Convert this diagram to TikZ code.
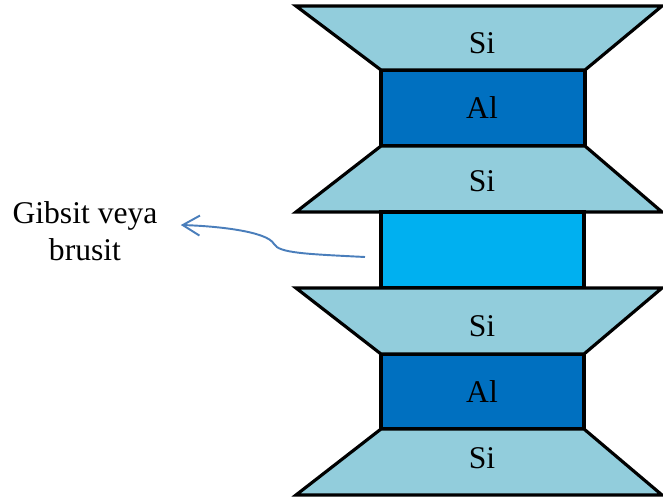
\documentclass[tikz,border=0pt]{standalone}
\usepackage{fontspec}
\setmainfont{Liberation Serif}
\usetikzlibrary{arrows.meta}

\definecolor{silica}{HTML}{92CDDC}
\definecolor{alumina}{HTML}{0070C0}
\definecolor{gibbsite}{HTML}{00B0F0}
\definecolor{pointer}{HTML}{4A7EBB}

\begin{document}
\begin{tikzpicture}[x=0.02cm,y=-0.02cm]
	\tikzstyle{every node}=[inner sep=0pt, font=\fontsize{18}{21}\selectfont]
	\tikzstyle{tet}=[draw,fill=silica,line width=1.8pt,line join=miter]
	\tikzstyle{oct}=[draw,fill=alumina,line width=1.8pt]
	\useasboundingbox (0,0) rectangle (663,504);
	% upper sheet: Si - Al - Si
	\path[oct] (381,70) rectangle (585,146);
	\path[tet] (296,6) -- (662,6) -- (585,70) -- (381,70) -- cycle;
	\path[tet] (381,146) -- (585,146) -- (662,212) -- (296,212) -- cycle;
	% interlayer
	\path[oct,fill=gibbsite] (381,212) rectangle (584,288);
	% lower sheet: Si - Al - Si
	\path[oct] (381,354) rectangle (584,429);
	\path[tet] (296,288) -- (662,288) -- (584,354) -- (381,354) -- cycle;
	\path[tet] (381,429) -- (584,429) -- (662,495) -- (296,495) -- cycle;
	% labels
	\node (si1) at (482,43) {Si};
	\node (al1) at (482,108) {Al};
	\node (si2) at (482,181) {Si};
	\node (si3) at (482,326) {Si};
	\node (al2) at (482,392) {Al};
	\node (si4) at (482,458) {Si};
	\node[align=center] (lbl) at (85,231) {Gibsit veya\\brusit};
	\coordinate (tail) at (365,257);
	\draw[pointer, line width=1.1pt, -{Straight Barb[length=3.4mm,width=4mm]}]
		(tail) .. controls (305,254) and (279,253) .. (274,244)
		.. controls (267,231) and (215,226) .. ([xshift=0.46cm,yshift=0.12cm]lbl.east);
\end{tikzpicture}
\end{document}
